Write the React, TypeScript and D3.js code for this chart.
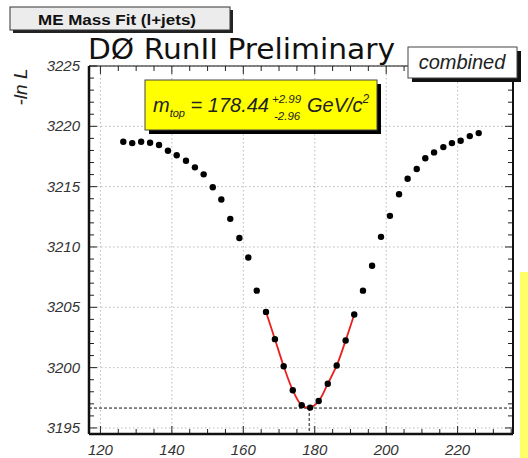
import React from "react";
import * as d3 from "d3";

const masses = [126.4, 128.9, 131.4, 133.9, 136.4, 138.9, 141.35, 143.95, 146.45, 148.9, 151.45, 153.85, 156.35, 158.9, 161.4, 163.75, 166.35, 168.85, 171.3, 173.85, 176.35, 178.7, 181.1, 183.65, 186.15, 188.65, 191.05, 193.5, 196.05, 198.55, 201.05, 203.6, 206.0, 208.55, 210.95, 213.4, 216.0, 218.4, 220.85, 223.4, 225.9];
const negLogL = [3218.72, 3218.61, 3218.72, 3218.64, 3218.45, 3217.98, 3217.6, 3217.15, 3216.6, 3216.02, 3214.95, 3213.93, 3212.33, 3210.74, 3209.13, 3206.38, 3204.62, 3202.36, 3200.12, 3198.12, 3196.88, 3196.69, 3197.23, 3198.67, 3200.18, 3202.25, 3204.4, 3206.38, 3208.45, 3210.84, 3212.58, 3214.37, 3215.66, 3216.46, 3217.35, 3217.84, 3218.28, 3218.61, 3218.8, 3219.19, 3219.44];
const fitRange = [16, 26];
const mTop = 178.44;
const minLnL = 3196.65;
const xTicks = [120, 140, 160, 180, 200, 220];
const yTicks = [3195, 3200, 3205, 3210, 3215, 3220, 3225];

const L = 89, R = 513, T = 66, B = 434;

export default function App() {
  const x = d3.scaleLinear().domain([116.8, 235.5]).range([L, R]);
  const y = d3.scaleLinear().domain([3194.5, 3225]).range([B, T]);
  const minorX = d3.range(120, 236, 5);
  const minorY = d3.range(3195, 3225.01, 1);
  const fitPts = masses.map((m, i) => [m, negLogL[i]] as [number, number]).slice(fitRange[0], fitRange[1] + 1);
  const line = d3.line<[number, number]>().x(d => x(d[0])).y(d => y(d[1])).curve(d3.curveCatmullRom.alpha(0.5));
  const lab = { fontFamily: "Liberation Sans, Arial, sans-serif", fontStyle: "italic", fill: "#333" } as const;
  return (
    <svg width={528} height={458} style={{ position: "absolute", left: 0, top: 0, background: "#fff" }}>
      <rect x={520} y={272} width={8} height={186} fill="#ffff66" />
      {/* grid */}
      {xTicks.map(t => (
        <line key={"gx" + t} x1={x(t)} x2={x(t)} y1={T} y2={B} stroke="#bbb" strokeDasharray="1.5,2.5" />
      ))}
      {yTicks.map(t => (
        <line key={"gy" + t} x1={L} x2={R} y1={y(t)} y2={y(t)} stroke="#bbb" strokeDasharray="1.5,2.5" />
      ))}
      {/* ticks */}
      {minorX.map(t => {
        const len = t % 20 === 0 ? 8 : 5;
        return (
          <g key={"tx" + t}>
            <line x1={x(t)} x2={x(t)} y1={B} y2={B - len} stroke="#222" strokeWidth={1} />
            <line x1={x(t)} x2={x(t)} y1={T} y2={T + len} stroke="#222" strokeWidth={1} />
          </g>
        );
      })}
      {minorY.map(t => {
        const len = Math.round(t) % 5 === 0 ? 8 : 5;
        return (
          <g key={"ty" + t}>
            <line x1={L} x2={L + len} y1={y(t)} y2={y(t)} stroke="#222" strokeWidth={1} />
            <line x1={R} x2={R - len} y1={y(t)} y2={y(t)} stroke="#222" strokeWidth={1} />
          </g>
        );
      })}
      {/* frame */}
      <line x1={L} x2={R} y1={T} y2={T} stroke="#111" strokeWidth={1.2} />
      <line x1={R} x2={R} y1={T} y2={B} stroke="#111" strokeWidth={2} />
      <line x1={L} x2={L} y1={T} y2={B} stroke="#111" strokeWidth={2.5} />
      <line x1={L} x2={R} y1={B} y2={B} stroke="#111" strokeWidth={2.5} />
      {/* dashed min lines */}
      <line x1={L} x2={R} y1={y(minLnL)} y2={y(minLnL)} stroke="#111" strokeWidth={1} strokeDasharray="3,2" />
      <line x1={x(mTop)} x2={x(mTop)} y1={y(minLnL)} y2={B} stroke="#111" strokeWidth={1} strokeDasharray="3,2" />
      {/* fit */}
      <path d={line(fitPts) || ""} fill="none" stroke="#e8201e" strokeWidth={1.8} />
      {/* points */}
      {masses.map((m, i) => (
        <circle key={"p" + i} cx={x(m)} cy={y(negLogL[i])} r={3.2} fill="#000" />
      ))}
      {/* tick labels */}
      {xTicks.map(t => (
        <text key={"lx" + t} x={x(t)} y={455} textAnchor="middle" fontSize={15} {...lab}>{t}</text>
      ))}
      {yTicks.map(t => (
        <text key={"ly" + t} x={80} y={y(t) + 5} textAnchor="end" fontSize={15} {...lab}>{t}</text>
      ))}
      {/* y axis title */}
      <text transform="translate(27,87) rotate(-90)" textAnchor="middle" fontSize={19} {...lab} fill="#222">-<tspan>ln L</tspan></text>
      {/* top-left box */}
      <rect x={13} y={10} width={220} height={23} fill="#222" />
      <rect x={10} y={7} width={220} height={23} fill="#ececec" stroke="#333" strokeWidth={1} />
      <text x={117} y={25} textAnchor="middle" fontSize={14.5} fontWeight="bold" fontFamily="Liberation Sans, Arial, sans-serif" fill="#111" textLength={158} lengthAdjust="spacingAndGlyphs">ME Mass Fit (l+jets)</text>
      {/* title */}
      <text x={88} y={59} fontSize={29} fontFamily="DejaVu Sans, sans-serif" fill="#111" textLength={307} lengthAdjust="spacingAndGlyphs">DØ RunII Preliminary</text>
      {/* combined box */}
      <rect x={412} y={51} width={109} height={31} fill="#111" />
      <rect x={408} y={47} width={109} height={31} fill="#fff" stroke="#444" strokeWidth={1} />
      <text x={462} y={69} textAnchor="middle" fontSize={20} {...lab} fill="#222">combined</text>
      {/* yellow box */}
      <rect x={149} y={84} width={232} height={50} fill="#000" />
      <rect x={145} y={80} width={232} height={50} fill="#ffff00" stroke="#444" strokeWidth={1} />
      <text x={153} y={112} fontSize={20} {...lab} fill="#222">
        m<tspan fontSize={11} dy={5}>top</tspan>
        <tspan dy={-5}> = 178.44</tspan>
      </text>
      <text x={272} y={103} fontSize={11.5} {...lab} fill="#222">+2.99</text>
      <text x={274} y={120} fontSize={11.5} {...lab} fill="#222">-2.96</text>
      <text x={307} y={112} fontSize={20} {...lab} fill="#222">GeV/c<tspan fontSize={12} dy={-9}>2</tspan></text>
    </svg>
  );
}
